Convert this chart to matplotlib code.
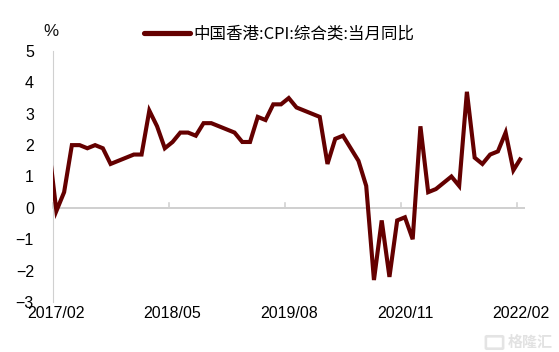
import matplotlib
matplotlib.use('Agg')
import matplotlib.pyplot as plt
from matplotlib.lines import Line2D
from matplotlib.patches import FancyBboxPatch

W, H = 559, 352
values = [2.0, -0.1, 0.5, 2.0, 2.0, 1.9, 2.0, 1.9, 1.4, 1.5, 1.6, 1.7,
          1.7, 3.1, 2.6, 1.9, 2.1, 2.4, 2.4, 2.3, 2.7, 2.7, 2.6, 2.5,
          2.4, 2.1, 2.1, 2.9, 2.8, 3.3, 3.3, 3.5, 3.2, 3.1, 3.0, 2.9,
          1.4, 2.2, 2.3, 1.9, 1.5, 0.7, -2.3, -0.4, -2.2, -0.4, -0.3, -1.0,
          2.6, 0.5, 0.6, 0.8, 1.0, 0.7, 3.7, 1.6, 1.4, 1.7, 1.8, 2.4,
          1.2, 1.6]
x_labels = ['2017/02', '2018/05', '2019/08', '2020/11', '2022/02']
x_label_pos = [0, 15, 30, 45, 60]
y_ticks = [-3, -2, -1, 0, 1, 2, 3, 4, 5]
legend_label = '中国香港:CPI:综合类:当月同比'
unit = '%'
watermark = '格隆汇'

plt.rcParams['font.family'] = ['Liberation Sans', 'Noto Sans CJK SC']
COL = '#640000'
GREY = '#d0d0d0'
PX = 72 / 100

fig = plt.figure(figsize=(W / 100, H / 100), dpi=100)
L, R, T, B = 52.5, 525, 51, 302
ax = fig.add_axes([L / W, 1 - B / H, (R - L) / W, (B - T) / H])
ax.set_xlim(-0.5, 60.5)
ax.set_ylim(-3, 5)

ax.plot(range(-1, 61), values, color=COL, lw=4.1 * PX, solid_joinstyle='miter',
        solid_capstyle='butt', zorder=3)

for s in ('top', 'right', 'bottom'):
    ax.spines[s].set_visible(False)
ax.spines['left'].set_color(GREY)
ax.spines['left'].set_linewidth(1.1 * PX)
ax.spines['left'].set_zorder(1)
ax.axhline(0, color=GREY, lw=2 * PX, zorder=1)
ax.set_xticks([])
ax.set_yticks(y_ticks)
ax.tick_params(axis='y', length=0, pad=18.5 * PX, labelsize=16 * PX, colors='#000000')

# category-boundary tick marks rising from the zero line
for p in x_label_pos:
    ax.plot([p - 0.5, p - 0.5], [0, 0.16], color=GREY, lw=1.6 * PX, zorder=1, clip_on=False)

for p, t in zip(x_label_pos, x_labels):
    ax.annotate(t, xy=(p, 0), xycoords=('data', 'figure fraction'),
                xytext=(0, (H - 314) * PX), textcoords='offset points',
                ha='center', va='center', fontsize=16 * PX, color='#000000')

fig.text(51 / W, 1 - 32 / H, unit, fontsize=17 * PX, ha='center', va='center', color='#111111')
fig.add_artist(Line2D([143.5 / W, 189.5 / W], [1 - 33 / H] * 2, color=COL, lw=5.2 * PX,
                      solid_capstyle='round'))
fig.text(193.5 / W, 1 - 34.5 / H, legend_label, fontsize=16.5 * PX, ha='left', va='center',
         color='#000000', family=['Noto Sans CJK SC', 'DejaVu Sans'])

# faint watermark bottom right
fig.add_artist(FancyBboxPatch((487 / W, 1 - 348 / H), 15 / W, 11 / H,
                              boxstyle='round,pad=0.002', transform=fig.transFigure,
                              fc='none', ec='#e4e4e4', lw=2.6 * PX))
fig.text(530 / W, 1 - 342 / H, watermark, fontsize=15 * PX, ha='center', va='center',
         color='#e2e2e2', family=['Noto Sans CJK SC', 'DejaVu Sans'], fontweight='bold')
fig.savefig('out.png', dpi=100)
